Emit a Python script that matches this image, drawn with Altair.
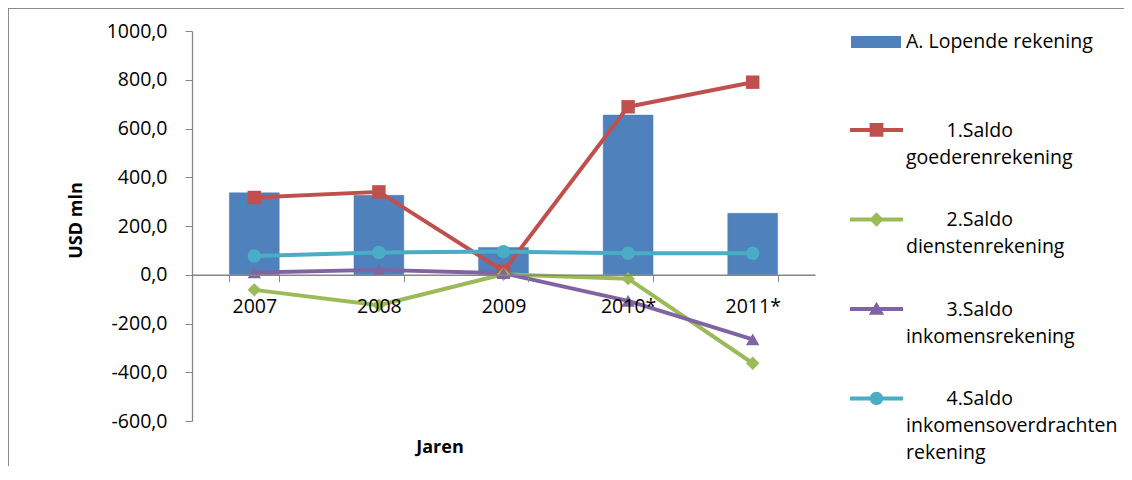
import altair as alt
import pandas as pd

years = ["2007", "2008", "2009", "2010*", "2011*"]
lopende = [336, 326, 112, 655, 252]
goederen = [317, 340, 15, 689, 790]
diensten = [-62, -125, 2, -16, -363]
inkomens = [9, 20, 6, -107, -265]
overdracht = [77, 91, 95, 88, 88]

bar_name = "A. Lopende rekening"
# zero-width space keeps the non-breaking indent from being trimmed
IND = "\u200b" + "\u00a0" * 8
series_keys = [
    IND + "1.Saldo|goederenrekening",
    IND + "2.Saldo|dienstenrekening",
    IND + "3.Saldo|inkomensrekening",
    IND + "4.Saldo|inkomensoverdrachten|rekening",
]
series_values = [goederen, diensten, inkomens, overdracht]
line_colors = ["#C0504D", "#9BBB59", "#8064A2", "#4BACC6"]
plot_shapes = ["square", "diamond", "triangle-up", "circle"]

FONT = "Open Sans"
AXIS_GRAY = "#868686"

bar_df = pd.DataFrame({"year": years, "value": lopende, "name": bar_name})
rows = []
for key, vals in zip(series_keys, series_values):
    for y, v in zip(years, vals):
        rows.append({"year": y, "value": v, "series": key})
line_df = pd.DataFrame(rows)

d = 0.32
legend_paths = [
    f"M-1,{d-0.075}H1V{d+0.075}H-1Z M-0.26,{d-0.26}H0.26V{d+0.26}H-0.26Z",
    f"M-1,{d-0.075}H1V{d+0.075}H-1Z M-0.27,{d}L0,{d-0.27}L0.27,{d}L0,{d+0.27}Z",
    f"M-1,{d-0.075}H1V{d+0.075}H-1Z M0,{d-0.27}L0.29,{d+0.22}L-0.29,{d+0.22}Z",
    f"M-1,{d-0.075}H1V{d+0.075}H-1Z M-0.25,{d}A0.25,0.25 0 1,1 0.25,{d}A0.25,0.25 0 1,1 -0.25,{d}Z",
]

x_enc = alt.X(
    "year:N",
    sort=years,
    scale=alt.Scale(paddingInner=0.6, paddingOuter=0.3),
    axis=alt.Axis(
        title="Jaren",
        offset=-146.25,
        zindex=1,
        labelAngle=0,
        tickBand="extent",
        tickSize=7,
        tickColor=AXIS_GRAY,
        domainColor=AXIS_GRAY,
        domainWidth=1.3,
        labelPadding=16,
        labelFont=FONT,
        labelFontSize=19.5,
        labelColor="#000000",
        titleFont=FONT,
        titleFontSize=18,
        titleFontWeight="bold",
        titleColor="#000000",
        titleX=247.5,
        titleY=173,
        titleBaseline="middle",
        titleAlign="center",
    ),
)
y_enc = alt.Y(
    "value:Q",
    scale=alt.Scale(domain=[-600, 1000], nice=False, zero=False),
    axis=alt.Axis(
        title="USD mln",
        values=list(range(-600, 1001, 200)),
        labelExpr="datum.value + ',0'",
        grid=False,
        tickSize=7,
        tickColor=AXIS_GRAY,
        domainColor=AXIS_GRAY,
        domainWidth=1.3,
        labelPadding=18,
        labelFont=FONT,
        labelFontSize=19.5,
        labelColor="#000000",
        titleFont=FONT,
        titleFontSize=18,
        titleFontWeight="bold",
        titleColor="#000000",
        titleX=-116,
        titleY=189,
        titleBaseline="middle",
        titleAlign="center",
    ),
)

frame = alt.Chart(bar_df).mark_rect(
    fillOpacity=0, stroke="#8c8c8c", strokeWidth=1
).encode(
    x=alt.value(-183.5), x2=alt.value(2000), y=alt.value(-22.5), y2=alt.value(900)
)

bars = alt.Chart(bar_df).mark_bar(stroke="#4a7ab4", strokeWidth=0.5).encode(
    x=x_enc,
    y=y_enc,
    color=alt.Color(
        "name:N",
        scale=alt.Scale(domain=[bar_name], range=["#4F81BD"]),
        legend=alt.Legend(
            title=None,
            orient="none",
            legendX=659,
            legendY=-14,
            symbolType="M-1,-0.24H1V0.24H-1Z",
            symbolSize=2500,
            symbolStrokeWidth=0,
            labelFont=FONT,
            labelFontSize=19.5,
            labelColor="#000000",
            labelOffset=5,
            labelLimit=400,
            padding=0,
        ),
    ),
)

lines = alt.Chart(line_df).mark_line(
    strokeWidth=4, strokeCap="round", strokeJoin="round"
).encode(
    x=x_enc,
    y=y_enc,
    color=alt.Color("series:N",
                    scale=alt.Scale(domain=series_keys, range=line_colors), legend=None),
    order=alt.Order("year:N"),
)

points = alt.Chart(line_df).mark_point(filled=True, opacity=1, size=180, strokeWidth=0).encode(
    x=x_enc,
    y=y_enc,
    color=alt.Color("series:N", scale=alt.Scale(domain=series_keys, range=line_colors), legend=None),
    shape=alt.Shape("series:N", scale=alt.Scale(domain=series_keys, range=plot_shapes), legend=None),
)

leg_common = dict(
    title=None,
    orient="none",
    legendX=658,
    legendY=64,
    symbolSize=2809,
    symbolStrokeWidth=0,
    labelFont=FONT,
    labelFontSize=19.5,
    labelColor="#000000",
    labelOffset=3,
    labelLimit=400,
    labelBaseline="top",
    labelExpr="split(datum.label, '|')",
    rowPadding=17.5,
    padding=0,
)

legend_carrier = alt.Chart(line_df).transform_filter("false").mark_point(
    filled=True, opacity=1
).encode(
    x=x_enc,
    y=y_enc,
    color=alt.Color("series:N", scale=alt.Scale(domain=series_keys, range=line_colors),
                    legend=alt.Legend(**leg_common)),
    shape=alt.Shape("series:N", scale=alt.Scale(domain=series_keys, range=legend_paths),
                    legend=alt.Legend(**leg_common)),
)

chart = alt.layer(frame, bars, lines, points, legend_carrier).resolve_scale(
    color="independent", shape="independent"
).properties(
    width=623,
    height=390,
    autosize=alt.AutoSizeParams(type="none"),
    padding={"left": 184, "top": 23, "right": 309, "bottom": 45},
).configure(
    style={"guide-label": {"lineHeight": 27}}
).configure_view(stroke=None)

chart.save("out.html", embed_options={"renderer": "svg", "actions": False})
